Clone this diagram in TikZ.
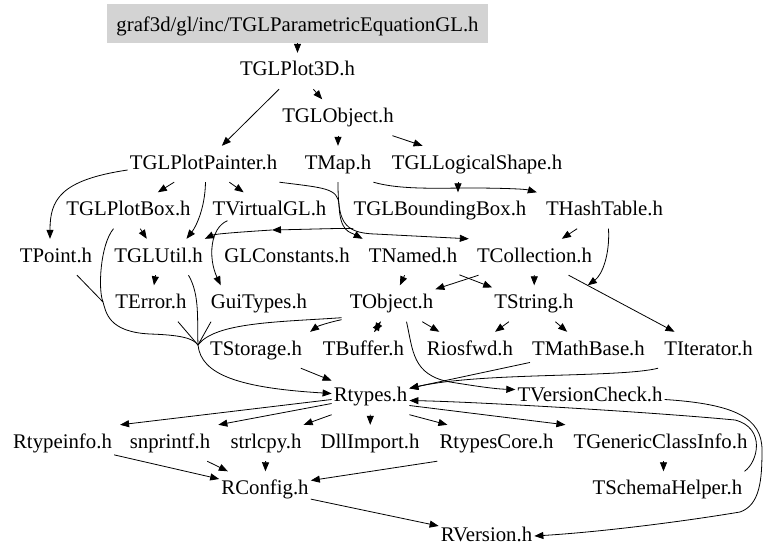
\documentclass[tikz,border=0pt]{standalone}
\usepackage{fontspec}
\setmainfont{Liberation Serif}
\usetikzlibrary{arrows.meta}
\definecolor{rootgray}{RGB}{211,211,211}

\begin{document}
\begin{tikzpicture}[x=1pt,y=-1pt]
  \tikzset{header/.style = {font=\fontsize{20.8}{24}\selectfont, inner xsep=2pt, inner ysep=8pt, text height=15pt, text depth=5pt, anchor=base}}
  \tikzset{incl/.style = {-{Triangle[length=9pt,width=7pt]}, line width=0.8pt}}
  \tikzset{link/.style = {line width=0.8pt}}

  \useasboundingbox (0,0) rectangle (768,559);

	\node[header, fill=rootgray, minimum width=381pt, minimum height=39pt, inner ysep=0pt, text height=20pt, text depth=4pt, anchor=center] (PEQ) at (297.5,23.5) {graf3d/gl/inc/TGLParametricEquationGL.h};

	\node[header] (P3D) at (297.5,76) {TGLPlot3D.h};
	\node[header] (GLO) at (338,122.5) {TGLObject.h};

	\node[header] (GPP) at (203.5,169) {TGLPlotPainter.h};
	\node[header] (MAP) at (338,169) {TMap.h};
	\node[header] (GLS) at (477,169) {TGLLogicalShape.h};

	\node[header] (GPB) at (128.5,215.5) {TGLPlotBox.h};
	\node[header] (VGL) at (269.5,215.5) {TVirtualGL.h};
	\node[header] (GBB) at (440,215.5) {TGLBoundingBox.h};
	\node[header] (HT) at (604.5,215.5) {THashTable.h};

	\node[header] (PT) at (56,262) {TPoint.h};
	\node[header] (GLU) at (158.5,262) {TGLUtil.h};
	\node[header] (GLC) at (287,262) {GLConstants.h};
	\node[header] (NAM) at (413,262) {TNamed.h};
	\node[header] (COL) at (534.5,262) {TCollection.h};

	\node[header] (ERR) at (151,308.5) {TError.h};
	\node[header] (GUI) at (259,308.5) {GuiTypes.h};
	\node[header] (OBJ) at (391.5,308.5) {TObject.h};
	\node[header] (STR) at (534,308.5) {TString.h};

	\node[header] (STO) at (256,355) {TStorage.h};
	\node[header] (BUF) at (363.5,355) {TBuffer.h};
	\node[header] (IOS) at (470,355) {Riosfwd.h};
	\node[header] (MB) at (588.5,355) {TMathBase.h};
	\node[header] (IT) at (708.5,355) {TIterator.h};

	\node[header] (RT) at (370.5,401.5) {Rtypes.h};
	\node[header] (VC) at (590,401.5) {TVersionCheck.h};

	\node[header] (RTI) at (62.5,448) {Rtypeinfo.h};
	\node[header] (SNP) at (170,448) {snprintf.h};
	\node[header] (SLC) at (266,448) {strlcpy.h};
	\node[header] (DLL) at (370,448) {DllImport.h};
	\node[header] (RTC) at (496.5,448) {RtypesCore.h};
	\node[header] (GCI) at (660.5,448) {TGenericClassInfo.h};

	\node[header] (RC) at (265,494.5) {RConfig.h};
	\node[header] (SH) at (667.5,494.5) {TSchemaHelper.h};

	\node[header] (RV) at (486.5,541) {RVersion.h};

	\coordinate (glc) at (272,230);
	\coordinate (pb) at (103,302);
	\coordinate (fan) at (198,345);

       \foreach \from/\to in {PEQ/P3D, P3D/GPP, P3D/GLO, GLO/MAP, GLO/GLS, GPP/GPB, GPP/VGL, GPB/GLU,
           HT/COL, COL/STR, COL/OBJ, NAM/STR, NAM/OBJ, COL/IT, GLU/ERR, OBJ/IOS, OBJ/BUF, BUF/OBJ,
           STR/IOS, STR/MB, MB/RT, STO/RT, RT/DLL, RTI/RC, SNP/RC, SLC/RC, RC/RV}
    \draw[incl] (\from) -- (\to);

	\draw[incl] ([yshift=-6]GPP.west) .. controls (60,180) and (50,200) .. ([xshift=-6]PT.north);
	\draw[incl] ([xshift=2]GPP.south) .. controls (205,210) and (195,228) .. ([xshift=28]GLU.north);
	\draw[incl] (GPP.south east) .. controls (325,188) and (338,188) .. (339,205) .. controls (340,232) and (350,232) .. ([xshift=-4]NAM.north west);
	\draw[incl] (MAP.south) .. controls (338,220) and (342,233) .. (375,234) -- ([xshift=-6]COL.north west);
	\draw[incl] (MAP.south east) .. controls (400,190) and (440,188) .. (470,188) .. controls (500,188) and (525,189) .. ([xshift=-7]HT.north west);
	\draw[incl] ([xshift=-19]GLS.south) -- ([xshift=18]GBB.north);
	\draw[incl] ([xshift=2]GBB.south west) .. controls (345,228) and (320,229) .. (glc);
	\draw[incl] (glc) .. controls (240,232) and (215,234) .. (GLU.north east);
	\draw[incl] ([xshift=17,yshift=8]VGL.south west) .. controls (210,228) and (208,258) .. ([xshift=12]GUI.north west);
	\draw[incl] ([xshift=4]HT.south) .. controls (610,255) and (602,275) .. ([xshift=12]STR.north east);

	\draw[link] ([xshift=21]PT.south) -- (pb);
	\draw[link] ([xshift=-15]GPB.south) .. controls (100,245) and (98,290) .. (pb) .. controls (106,312) and (108,332) .. (150,334) .. controls (180,335) and (193,338) .. (fan);
	\draw[link] ([xshift=27]ERR.south) -- (fan);
	\draw[link] ([xshift=30]GLU.south) .. controls (200,295) and (197,320) .. (fan);
	\draw[link] ([xshift=-48]GUI.south) -- (fan);
	\draw[link] ([xshift=-6,yshift=4]OBJ.south west) .. controls (280,322) and (215,322) .. (fan);
	\draw[incl] (fan) .. controls (201,375) and (240,388) .. ([yshift=3]RT.west);

	\draw[incl] ([xshift=-6,yshift=2]OBJ.south west) .. controls (330,322) and (318,326) .. ([xshift=6]STO.north east);
	\draw[incl] ([xshift=15]OBJ.south) .. controls (413,350) and (412,375) .. (450,382) .. controls (475,386) and (495,389) .. ([yshift=7]VC.west);
	\draw[incl] ([xshift=-4]IT.south west) .. controls (620,378) and (480,372) .. ([yshift=8]RT.east);

	\draw[incl] ([yshift=-3]RT.west) -- ([xshift=6]RTI.north east);
	\draw[incl] ([yshift=-7]RT.west) -- ([xshift=6]SNP.north east);
	\draw[incl] (RT.south west) -- (SLC.north east);
	\draw[incl] (RT.south east) -- ([xshift=10]RTC.north west);
	\draw[incl] ([yshift=-9]RT.east) -- ([xshift=-6]GCI.north west);
	\draw[incl] (SH.north east) .. controls (758,462) and (766,428) .. (735,420) .. controls (650,412) and (480,402) .. ([yshift=-4]RT.east);
	\draw[incl] ([yshift=-3]VC.east) .. controls (735,404) and (762,418) .. (762,450) .. controls (762,480) and (760,505) .. (740,512) .. controls (680,522) and (600,532) .. (RV.east);
	\draw[incl] ([xshift=3]GCI.south) -- ([xshift=-4]SH.north);
	\draw[incl] (RTC.south west) -- ([yshift=9]RC.east);
\end{tikzpicture}
\end{document}
